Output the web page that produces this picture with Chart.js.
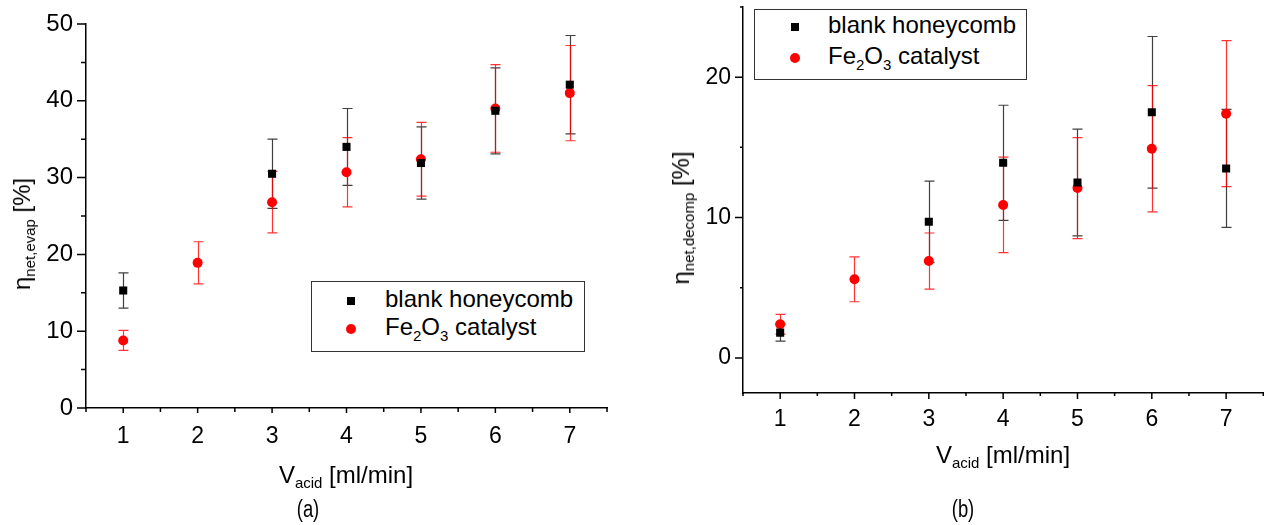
<!DOCTYPE html>
<html>
<head>
<meta charset="utf-8">
<script src="https://cdn.jsdelivr.net/npm/chart.js@4.4.1/dist/chart.umd.min.js"></script>
<style>
  body { margin: 0; background: #fff; width: 1264px; height: 525px; position: relative; overflow: hidden;
         font-family: "Liberation Sans", Arial, sans-serif; color: #000 }
  canvas { position: absolute; top: 0 }
  #chartA { left: 0 }
  #chartB { left: 640px }
  .title { position: absolute; font-size: 24px; line-height: 24px; white-space: nowrap }
  .title sub { font-size: 15px; line-height: 0; vertical-align: -5px }
  .xtitle { transform: translateX(-50%) }
  .ytitle { transform: translate(-50%, -50%) rotate(-90deg) }
  .caption { position: absolute; font-size: 23px; line-height: 23px; transform: translateX(-50%) scaleX(0.8) }
  .legend { position: absolute; border: 1px solid #333; background: #fff; font-size: 24px; box-sizing: border-box }
  .legend .row { position: absolute; left: 0; right: 0; height: 28px; line-height: 28px; white-space: nowrap }
  .legend .row span.txt { position: absolute; left: 73px; top: -2px }
  .legend sub { font-size: 15px; line-height: 0; vertical-align: -6px }
  .mk { position: absolute; transform: translate(-50%, -50%); top: 50% }
  .sq { width: 8px; height: 8px; background: #000 }
  .ci { width: 10px; height: 10px; border-radius: 50%; background: #f00 }
</style>
</head>
<body>
<canvas id="chartA" width="640" height="525"></canvas>
<canvas id="chartB" width="629" height="525"></canvas>

<div class="title ytitle" style="left:22px; top:234px">&eta;<sub>net,evap</sub> [%]</div>
<div class="title xtitle" style="left:346px; top:463px">V<sub>acid</sub> [ml/min]</div>
<div class="caption" style="left:308px; top:498px">(a)</div>
<div class="legend" style="left:311px; top:281px; width:274px; height:71px">
  <div class="row" style="top:5px"><span class="mk sq" style="left:39px"></span><span class="txt">blank honeycomb</span></div>
  <div class="row" style="top:33px"><span class="mk ci" style="left:39px"></span><span class="txt">Fe<sub>2</sub>O<sub>3</sub> catalyst</span></div>
</div>

<div class="title ytitle" style="left:681px; top:218px">&eta;<sub>net,decomp</sub> [%]</div>
<div class="title xtitle" style="left:1003px; top:443px">V<sub>acid</sub> [ml/min]</div>
<div class="caption" style="left:963px; top:498px">(b)</div>
<div class="legend" style="left:754px; top:9px; width:273px; height:71px">
  <div class="row" style="top:3px"><span class="mk sq" style="left:40px"></span><span class="txt">blank honeycomb</span></div>
  <div class="row" style="top:34px"><span class="mk ci" style="left:40px"></span><span class="txt">Fe<sub>2</sub>O<sub>3</sub> catalyst</span></div>
</div>

<script>
// acid flow [ml/min]
const vAcid = [1, 2, 3, 4, 5, 6, 7]

// (a) net evaporation efficiency [%], with error (+/-)
const blankEvap = [15.3, null, 30.5, 34.0, 31.9, 38.7, 42.1]
const blankEvapErr = [2.3, null, 4.5, 5.0, 4.7, 5.6, 6.4]
const feEvap = [8.8, 18.9, 26.8, 30.7, 32.4, 39.0, 41.0]
const feEvapErr = [1.3, 2.75, 4.0, 4.5, 4.8, 5.7, 6.2]

// (b) net decomposition efficiency [%], with error (+/-)
const blankDecomp = [1.8, null, 9.7, 13.9, 12.5, 17.5, 13.5]
const blankDecompErr = [0.6, null, 2.9, 4.1, 3.8, 5.4, 4.2]
const feDecomp = [2.4, 5.6, 6.9, 10.9, 12.1, 14.9, 17.4]
const feDecompErr = [0.7, 1.6, 2.0, 3.4, 3.6, 4.5, 5.2]

// tick positions (major ones get labels)
const xTicks = [0.5, 1, 1.5, 2, 2.5, 3, 3.5, 4, 4.5, 5, 5.5, 6, 6.5, 7, 7.5]
const yTicksA = [0, 5, 10, 15, 20, 25, 30, 35, 40, 45, 50]
const yTicksB = [0, 5, 10, 15, 20, 25]

function points(vals, errs) {
  const out = []
  vals.forEach((v, i) => { if (v !== null) out.push({ x: vAcid[i], y: v, err: errs[i] }) })
  return out
}

function isMajor(v, step) {
  return Math.abs(v / step - Math.round(v / step)) < 1e-6
}

// vertical error bars with caps, drawn under the markers
const errorBars = {
  id: 'errorBars',
  beforeDatasetsDraw(chart) {
    const ctx = chart.ctx
    const ys = chart.scales.y
    chart.data.datasets.forEach((ds, i) => {
      const meta = chart.getDatasetMeta(i)
      ctx.save()
      ctx.strokeStyle = ds.errorColor
      ctx.lineWidth = 1.2
      meta.data.forEach((el, j) => {
        const d = ds.data[j]
        const top = ys.getPixelForValue(d.y + d.err)
        const bot = ys.getPixelForValue(d.y - d.err)
        const x = Math.round(el.x) + 0.5
        ctx.beginPath()
        ctx.moveTo(x, top); ctx.lineTo(x, bot)
        ctx.moveTo(x - 5, top); ctx.lineTo(x + 5, top)
        ctx.moveTo(x - 5, bot); ctx.lineTo(x + 5, bot)
        ctx.stroke()
      })
      ctx.restore()
    })
  }
}

// outward tick marks, long on labelled values, short in between
const tickMarks = {
  id: 'tickMarks',
  afterDraw(chart, args, opts) {
    const ctx = chart.ctx
    const xs = chart.scales.x
    const ys = chart.scales.y
    ctx.save()
    ctx.strokeStyle = '#000'
    ctx.lineWidth = 1.5
    ctx.beginPath()
    xs.ticks.forEach(t => {
      const px = xs.getPixelForValue(t.value)
      const len = isMajor(t.value, 1) ? opts.xMajor : opts.xMinor
      ctx.moveTo(px, xs.top); ctx.lineTo(px, xs.top + len)
    })
    ys.ticks.forEach(t => {
      const py = ys.getPixelForValue(t.value)
      const len = isMajor(t.value, 10) ? opts.yMajor : opts.yMinor
      ctx.moveTo(ys.right, py); ctx.lineTo(ys.right - len, py)
    })
    ctx.stroke()
    ctx.restore()
  }
}

function makeChart(id, c) {
  return new Chart(document.getElementById(id), {
    type: 'scatter',
    data: {
      datasets: [
        { label: 'blank honeycomb', data: c.blank, pointStyle: 'rect', pointRadius: 5.7, pointBorderWidth: 0,
          backgroundColor: '#000', borderColor: '#000', errorColor: 'rgba(0,0,0,0.75)' },
        { label: 'Fe2O3 catalyst', data: c.fe, pointStyle: 'circle', pointRadius: 5, pointBorderWidth: 0,
          backgroundColor: '#f00', borderColor: '#f00', errorColor: 'rgba(255,0,0,0.8)' }
      ]
    },
    options: {
      responsive: false,
      animation: false,
      events: [],
      layout: { padding: c.pad },
      plugins: { legend: { display: false }, tooltip: { enabled: false }, tickMarks: c.ticks },
      scales: {
        x: {
          type: 'linear', min: 0.5, max: 7.5,
          afterBuildTicks: s => { s.ticks = xTicks.map(v => ({ value: v })) },
          afterFit: s => { s.height = c.xH; s.paddingLeft = 0; s.paddingRight = 0 },
          grid: { display: false, drawTicks: false },
          border: { display: true, color: '#000', width: 1.5 },
          ticks: { padding: c.xPad, color: '#000', autoSkip: false, maxRotation: 0,
                   font: { family: 'Liberation Sans', size: c.xFont },
                   callback: v => isMajor(v, 1) ? v : '' }
        },
        y: {
          type: 'linear', min: c.yMin, max: c.yMax,
          afterBuildTicks: s => { s.ticks = c.yTicks.map(v => ({ value: v })) },
          afterFit: s => { s.width = c.yW; s.paddingTop = 0; s.paddingBottom = 0 },
          grid: { display: false, drawTicks: false },
          border: { display: true, color: '#000', width: 1.5 },
          ticks: { padding: c.yPad, color: '#000', autoSkip: false,
                   font: { family: 'Liberation Sans', size: c.yFont },
                   callback: v => (isMajor(v, 10) && v <= c.yLabelMax) ? v : '' }
        }
      }
    },
    plugins: [errorBars, tickMarks]
  })
}

makeChart('chartA', {
  blank: points(blankEvap, blankEvapErr),
  fe: points(feEvap, feEvapErr),
  pad: { left: 0, top: 24, right: 33, bottom: 0 },
  xH: 117, yW: 86, xPad: 15, yPad: 13, xFont: 23, yFont: 24,
  yMin: 0, yMax: 50, yTicks: yTicksA, yLabelMax: 50,
  ticks: { xMajor: 5, xMinor: 4, yMajor: 9, yMinor: 5 }
})

makeChart('chartB', {
  blank: points(blankDecomp, blankDecompErr),
  fe: points(feDecomp, feDecompErr),
  pad: { left: 0, top: 7, right: 0, bottom: 0 },
  xH: 132, yW: 103, xPad: 13, yPad: 12, xFont: 23, yFont: 23,
  yMin: -2.5, yMax: 25, yTicks: yTicksB, yLabelMax: 20,
  ticks: { xMajor: 6, xMinor: 3, yMajor: 8, yMinor: 3 }
})
</script>
</body>
</html>
